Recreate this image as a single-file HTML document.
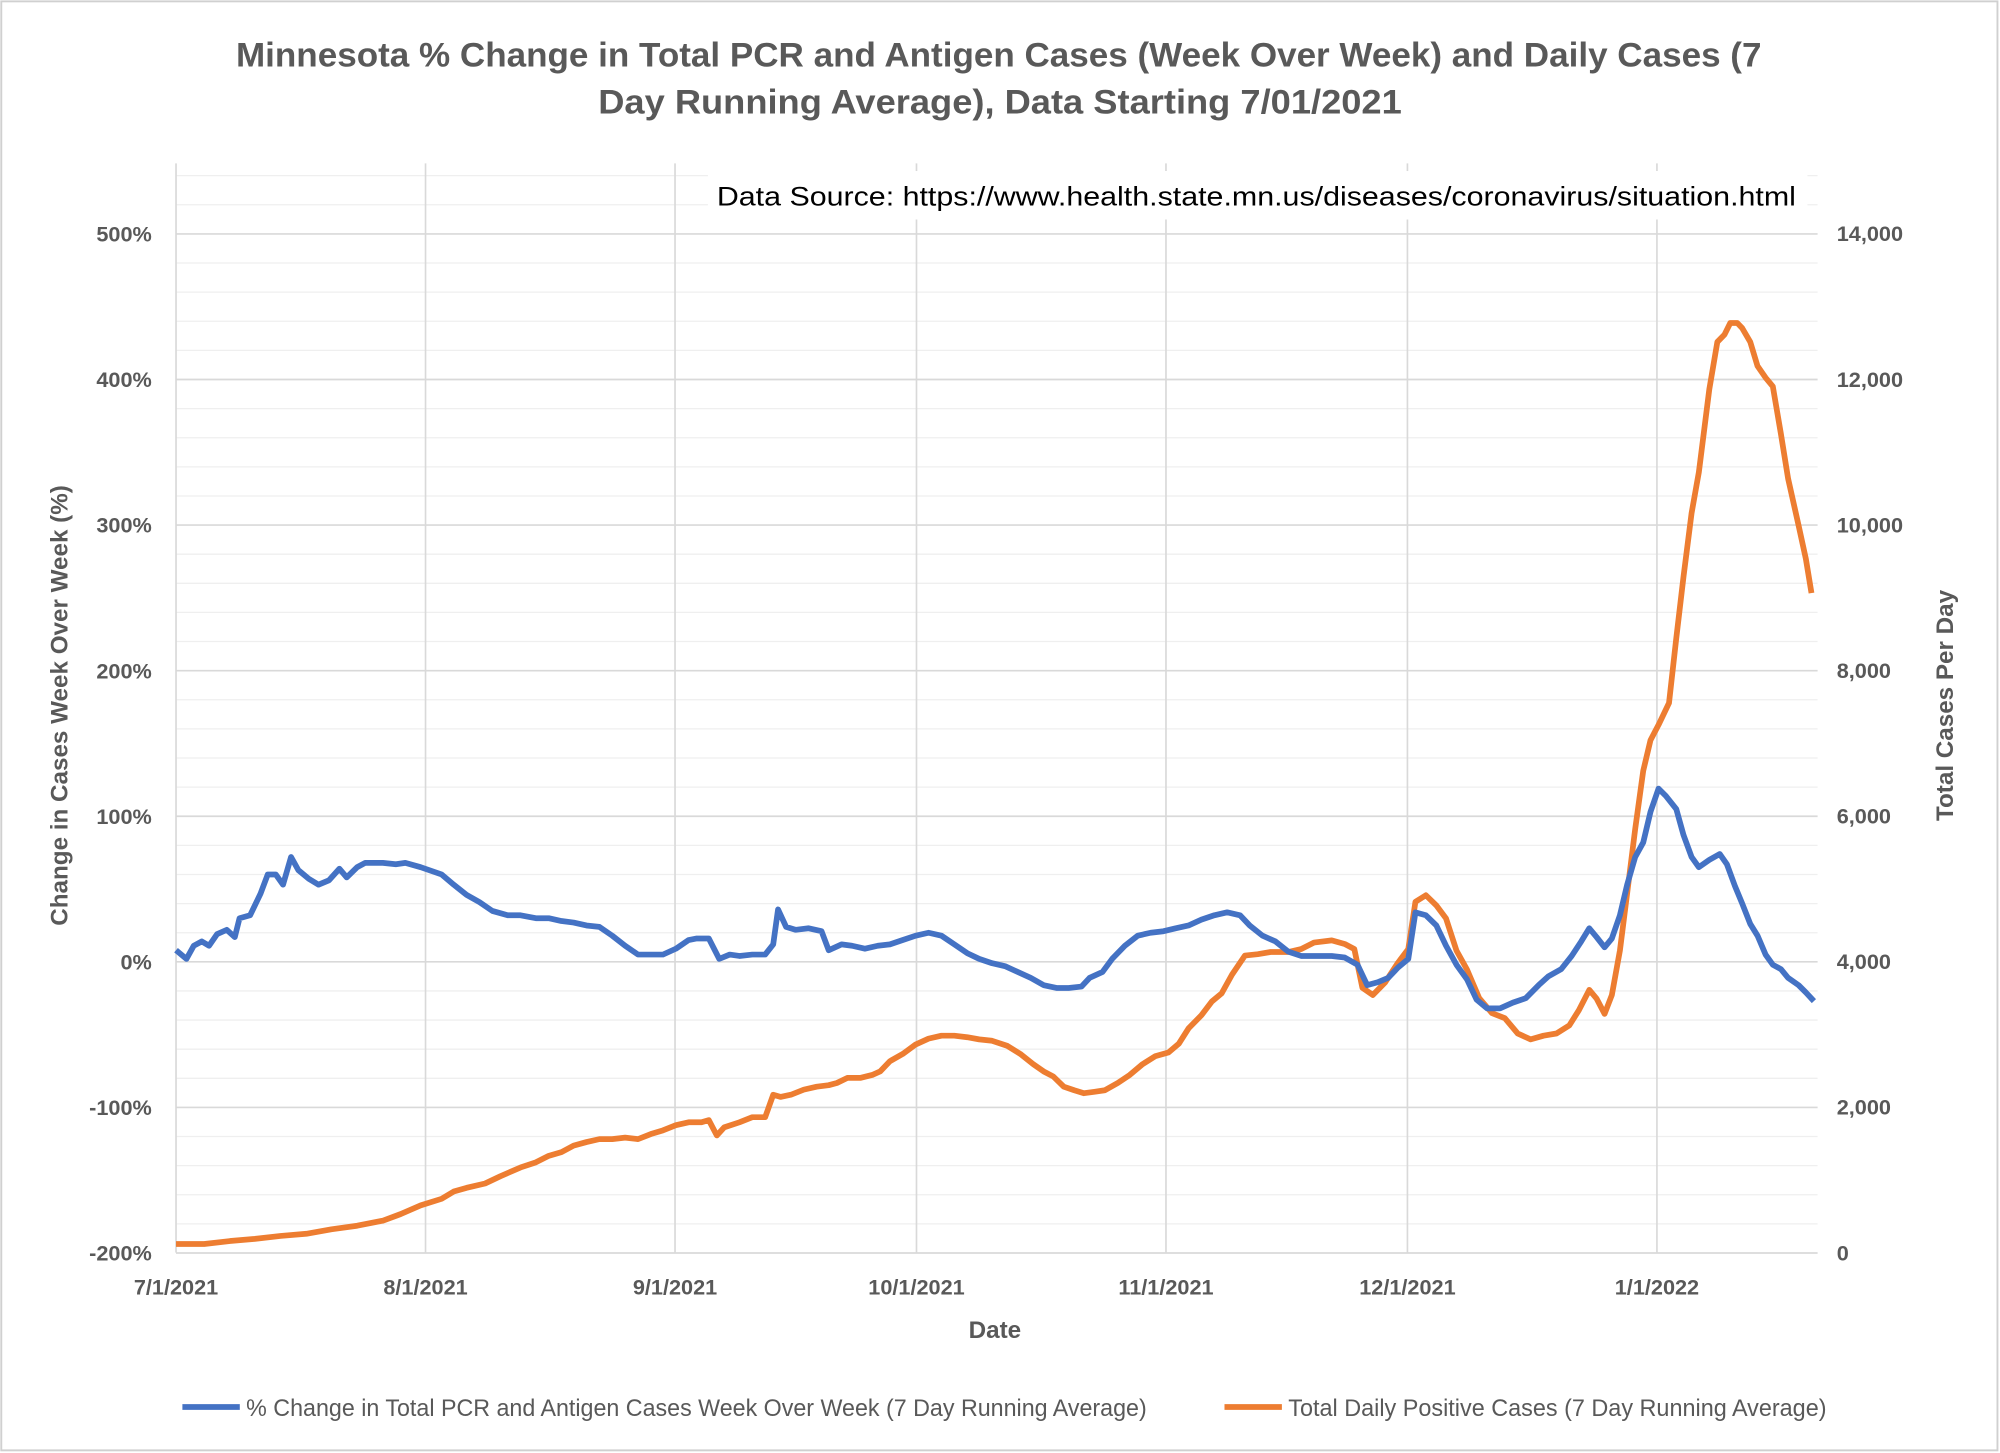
<!DOCTYPE html>
<html><head><meta charset="utf-8"><style>
html,body{margin:0;padding:0;background:#fff;}
svg{display:block;font-family:"Liberation Sans",sans-serif;}
</style></head><body>
<svg id="chart" width="2000" height="1453" viewBox="0 0 1568 1139" xmlns="http://www.w3.org/2000/svg">
<rect x="1" y="1" width="1565" height="1136" fill="#fff" stroke="#d0d0d0" stroke-width="1.5"/>
<g id="grid"></g>
<text x="783" y="52" text-anchor="middle" font-size="27" font-weight="bold" fill="#595959" textLength="1196" lengthAdjust="spacingAndGlyphs">Minnesota % Change in Total PCR and Antigen Cases (Week Over Week) and Daily Cases (7</text>
<text x="784" y="89" text-anchor="middle" font-size="27" font-weight="bold" fill="#595959" textLength="630" lengthAdjust="spacingAndGlyphs">Day Running Average), Data Starting 7/01/2021</text>
<rect x="555" y="134" width="862" height="38" fill="#fff"/>
<text x="985" y="161" text-anchor="middle" font-size="21" fill="#000" textLength="846" lengthAdjust="spacingAndGlyphs">Data Source: https://www.health.state.mn.us/diseases/coronavirus/situation.html</text>
<g id="axes"></g>
<g id="series"></g>
<text x="780" y="1049" text-anchor="middle" font-size="19" font-weight="bold" fill="#595959">Date</text>
<text transform="translate(53,553) rotate(-90)" text-anchor="middle" font-size="19" font-weight="bold" fill="#595959">Change in Cases Week Over Week (%)</text>
<text transform="translate(1531,553) rotate(-90)" text-anchor="middle" font-size="19" font-weight="bold" fill="#595959">Total Cases Per Day</text>
<g>
<line x1="143" y1="1103" x2="188" y2="1103" stroke="#4472C4" stroke-width="4.5"/>
<text x="193" y="1110" font-size="18.5" fill="#595959" textLength="706" lengthAdjust="spacingAndGlyphs">% Change in Total PCR and Antigen Cases Week Over Week (7 Day Running Average)</text>
</g>
<g>
<line x1="960" y1="1103" x2="1005" y2="1103" stroke="#ED7D31" stroke-width="4.5"/>
<text x="1010" y="1110" font-size="18.5" fill="#595959" textLength="422" lengthAdjust="spacingAndGlyphs">Total Daily Positive Cases (7 Day Running Average)</text>
</g>
</svg>
<script>
const monthDays=[0,31,62,92,123,153,184];
const monthLabels=["7/1/2021","8/1/2021","9/1/2021","10/1/2021","11/1/2021","12/1/2021","1/1/2022"];
const leftTicks=[-200,-100,0,100,200,300,400,500];
const leftTickLabels=["-200%","-100%","0%","100%","200%","300%","400%","500%"];
const rightTicks=[0,2000,4000,6000,8000,10000,12000,14000];
const rightTickLabels=["0","2,000","4,000","6,000","8,000","10,000","12,000","14,000"];
const pctDays=[0,1.3,2.2,3.2,4.1,5.1,6.3,7.3,7.9,9.2,10.5,11.4,12.4,13.3,14.3,15.2,16.5,17.7,19,20.3,21.2,22.5,23.5,24.7,25.7,27.3,28.5,30.4,33,34.5,36.1,37.7,39.3,41.2,42.8,44.7,46.3,47.9,49.4,51,52.6,54.2,55.8,57.4,59,60.5,62.1,63.7,64.7,66.2,67.5,68.8,70,71.6,73.2,74.2,74.8,75.8,77,78.6,80.2,81.1,82.7,84,85.6,87.2,88.7,90.3,91.9,93.5,95.1,96.7,98.3,99.8,101.4,103,104.6,106.2,107.8,109.4,110.9,112.5,113.5,115.1,116.3,117.9,119.5,121.1,122.7,124.2,125.8,127.4,129,130.6,132.2,133.4,135,136.6,138.2,139.8,141.4,143.6,145.2,146.8,148,149.3,150.6,151.8,153.1,154,155.3,156.6,157.8,159.1,160.4,161.6,162.9,164.5,166.1,167.7,169.3,170.5,172.1,173.4,174.6,175.6,176.5,177.5,178.4,179.4,180.3,181.3,182.3,183.2,184.2,185.1,186.4,187.3,188.3,189.2,190.5,191.8,192.7,193.7,194.6,195.6,196.5,197.5,198.4,199.4,200.3,201.6,202.5,203.5];
const pctValues=[8,2,11,14,11,19,22,17,30,32,47,60,60,53,72,63,57,53,56,64,58,65,68,68,68,67,68,65,60,53,46,41,35,32,32,30,30,28,27,25,24,18,11,5,5,5,9,15,16,16,2,5,4,5,5,12,36,24,22,23,21,8,12,11,9,11,12,15,18,20,18,12,6,2,-1,-3,-7,-11,-16,-18,-18,-17,-11,-7,2,11,18,20,21,23,25,29,32,34,32,25,18,14,7,4,4,4,3,-2,-16,-14,-11,-4,2,34,32,25,11,-2,-12,-26,-32,-32,-28,-25,-16,-10,-5,4,14,23,17,10,16,32,53,72,82,103,119,114,105,87,72,65,70,74,67,52,40,26,18,5,-2,-5,-11,-16,-21,-27];
const caseDays=[0,3.5,6.7,9.8,13,16.2,19.3,22.5,25.7,27.9,30.4,33,34.5,36.1,38.4,40.3,42.8,44.7,46.3,47.9,49.4,51,52.6,54.2,55.8,57.4,59,60.5,62.1,63.7,65.3,66.2,67.2,68.1,70,71.6,73.2,74.2,75.1,76.4,78,79.6,81.1,82.1,83.4,85,86.5,87.5,88.7,90.3,91.9,93.5,95.1,96.7,98.3,99.8,101.4,103.3,104.9,106.5,107.8,109,110.3,111.6,112.8,114.1,115.4,117,118.5,120.1,121.7,123.3,124.6,125.8,127.4,128.7,129.9,131.2,132.8,134.4,136,138.2,139.8,141.4,143.6,145.2,146.4,147.4,148.7,150.2,151.8,153.1,154,155.3,156.6,157.8,159.1,160.4,161.9,163.5,165.1,166.7,168.3,169.9,171.5,173.1,174.3,175.6,176.5,177.5,178.4,179.4,180.3,181.3,182.3,183.2,184.2,185.5,186.4,187.3,188.3,189.2,190.5,191.5,192.4,193.1,194,194.6,195.6,196.5,197.5,198.4,199.4,200.3,201.6,202.5,203.2];
const caseValues=[120,120,160,190,230,260,320,370,440,530,650,740,840,890,950,1050,1170,1240,1330,1380,1470,1520,1560,1560,1580,1560,1630,1680,1750,1790,1790,1820,1610,1720,1790,1860,1860,2170,2140,2170,2240,2280,2300,2330,2400,2400,2440,2490,2630,2730,2860,2940,2980,2980,2960,2930,2910,2840,2730,2590,2490,2420,2280,2230,2190,2210,2230,2330,2440,2590,2700,2750,2870,3080,3260,3450,3560,3820,4080,4100,4130,4130,4170,4260,4290,4240,4170,3640,3540,3710,3980,4170,4820,4910,4770,4590,4150,3890,3500,3290,3220,3010,2930,2980,3010,3120,3330,3610,3490,3280,3540,4150,4940,5820,6620,7040,7250,7550,8440,9290,10160,10720,11860,12510,12610,12770,12770,12700,12510,12180,12020,11900,11250,10630,9990,9530,9060];

const NS="http://www.w3.org/2000/svg";
const X0=138,PXD=6.31,XR=1425,YT=128;
const xS=d=>X0+d*PXD;
const yL=v=>754-v*1.1414;
const yR=v=>982-v*799/14000;
function mk(tag,attrs,parent){const e=document.createElementNS(NS,tag);for(const k in attrs)e.setAttribute(k,attrs[k]);parent.appendChild(e);return e;}
const grid=document.getElementById('grid'),axes=document.getElementById('axes'),series=document.getElementById('series');
for(let v=-180;v<=560;v+=20){
  if(v%100===0)continue;
  const y=yL(v); if(y<YT+5)continue;
  const l=mk('line',{x1:X0,x2:XR,y1:y,y2:y,stroke:'#efefef','stroke-width':1},grid);
  
  
}
leftTicks.forEach((v,i)=>{
  const y=yL(v);
  const l=mk('line',{x1:X0,x2:XR,y1:y,y2:y,stroke:'#d9d9d9','stroke-width':1.3},grid);
  
  
  const t=mk('text',{x:119,y:y+6,'text-anchor':'end','font-size':17,'font-weight':'bold',fill:'#595959'},axes);
  t.textContent=leftTickLabels[i];
  
  
});
rightTicks.forEach((v,i)=>{
  const t=mk('text',{x:1440,y:yR(v)+6,'text-anchor':'start','font-size':17,'font-weight':'bold',fill:'#595959'},axes);
  t.textContent=rightTickLabels[i];
  
  
});
monthDays.forEach((d,i)=>{
  const x=xS(d);
  const l=mk('line',{x1:x,x2:x,y1:YT,y2:982,stroke:'#d9d9d9','stroke-width':1.3},grid);
  
  
  const t=mk('text',{x:x,y:1015,'text-anchor':'middle','font-size':17,'font-weight':'bold',fill:'#595959'},axes);
  t.textContent=monthLabels[i];
  
  
});
const cp=caseDays.map((d,i)=>xS(d).toFixed(1)+','+yR(caseValues[i]).toFixed(1)).join(' ');
const cl=mk('polyline',{points:cp,fill:'none',stroke:'#ED7D31','stroke-width':4.5,'stroke-linejoin':'round'},series);


const pp=pctDays.map((d,i)=>xS(d).toFixed(1)+','+yL(pctValues[i]).toFixed(1)).join(' ');
const pl=mk('polyline',{points:pp,fill:'none',stroke:'#4472C4','stroke-width':4.5,'stroke-linejoin':'round'},series);


</script>
</body></html>
